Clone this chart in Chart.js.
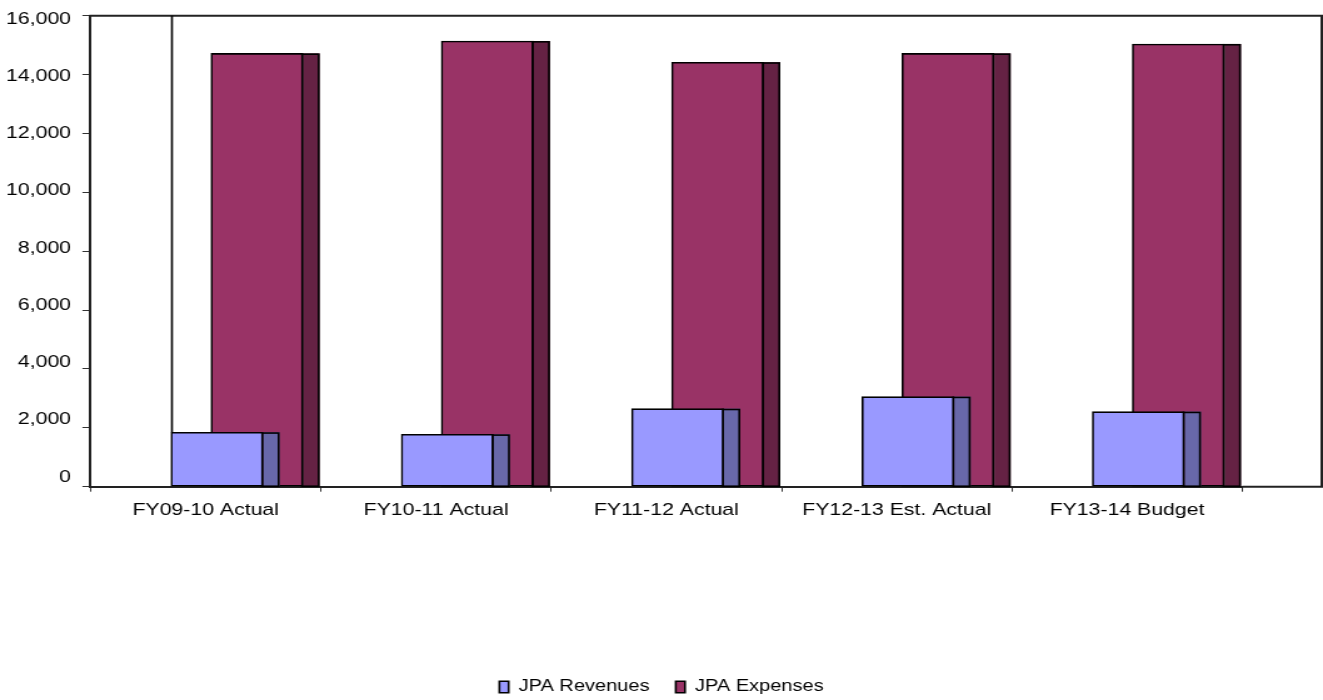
<!DOCTYPE html>
<html>
<head>
<meta charset="utf-8">
<title>JPA Revenues and Expenses</title>
<script src="https://cdn.jsdelivr.net/npm/chart.js@4"></script>
<style>
  html, body { margin: 0; padding: 0; background: #ffffff; }
  canvas { display: block; }
</style>
</head>
<body>
<!-- drawn at 1058px and shown 1323px wide: a horizontally stretched chart -->
<canvas id="chart" width="1058" height="700" style="width:1323px;height:700px"></canvas>
<script>
const categories = ['FY09-10 Actual', 'FY10-11 Actual', 'FY11-12 Actual', 'FY12-13 Est. Actual', 'FY13-14 Budget'];
const revenues = [1850, 1780, 2650, 3060, 2550];
const expenses = [14720, 15140, 14420, 14720, 15040];
const yTickValues = [0, 2000, 4000, 6000, 8000, 10000, 12000, 14000, 16000];
const seriesNames = ['JPA Revenues', 'JPA Expenses'];

const FONT = "'Liberation Sans', Arial, sans-serif";
const SIDE_W = 13.1;        // width of the shaded side face of each column
const EDGE = 1.6;           // outline width of the columns

// Pseudo 3-D columns: each dataset is shifted right by its depth offset and
// gets a darker side face next to every column.
const depthBars = {
  id: 'depthBars',
  beforeDatasetDraw(chart, args) {
    const ds = chart.data.datasets[args.index];
    chart.ctx.save();
    chart.ctx.translate(ds.depthShift || 0, 0);
  },
  afterDatasetDraw(chart, args) {
    const ctx = chart.ctx;
    const ds = chart.data.datasets[args.index];
    args.meta.data.forEach(el => {
      const p = el.getProps(['x', 'y', 'base', 'width'], true);
      const xr = p.x + p.width / 2;
      ctx.fillStyle = ds.sideColor;
      ctx.fillRect(xr, p.y, SIDE_W, p.base - p.y);
      ctx.lineWidth = EDGE;
      ctx.strokeStyle = '#000000';
      ctx.strokeRect(xr - EDGE / 2, p.y + EDGE / 2, SIDE_W, p.base - p.y - EDGE / 2);
    });
    ctx.restore();
  }
};

// Plot frame (top, right and the floor line running past the last category)
// plus the back-wall edge rising above the first revenue column.
const plotFrame = {
  id: 'plotFrame',
  afterDatasetsDraw(chart) {
    const ctx = chart.ctx;
    const a = chart.chartArea;
    const right = chart.width - 1;
    ctx.save();
    ctx.strokeStyle = '#222222';
    ctx.lineWidth = 2;
    ctx.beginPath();
    ctx.moveTo(a.left - 1, a.top);
    ctx.lineTo(right, a.top);
    ctx.lineTo(right, a.bottom);
    ctx.lineTo(a.right, a.bottom);
    ctx.stroke();

    const ds0 = chart.data.datasets[0];
    const first = chart.getDatasetMeta(0).data[0];
    if (first) {
      const p = first.getProps(['x', 'y', 'width'], true);
      const xl = p.x - p.width / 2 + (ds0.depthShift || 0) + EDGE / 2;
      ctx.strokeStyle = '#000000';
      ctx.lineWidth = EDGE;
      ctx.beginPath();
      ctx.moveTo(xl, a.top);
      ctx.lineTo(xl, p.y);
      ctx.stroke();
    }
    ctx.restore();
  }
};

// The legend is centred on the whole canvas, not only on the padded area.
const legendSpan = {
  id: 'legendSpan',
  afterLayout(chart) {
    const lg = chart.legend;
    if (lg) {
      lg.left = 0;
      lg.right = chart.width;
      lg.width = chart.width;
    }
  }
};

const setTicks = scale => { scale.ticks = yTickValues.map(v => ({ value: v })); };

new Chart(document.getElementById('chart'), {
  type: 'bar',
  data: {
    labels: categories,
    datasets: [
      {
        label: seriesNames[0],
        data: revenues,
        backgroundColor: '#9999FF',
        sideColor: '#6868AA',
        borderColor: '#000000',
        borderWidth: EDGE,
        borderSkipped: false,
        depthShift: 9.1,
        yAxisID: 'y',
        clip: false
      },
      {
        label: seriesNames[1],
        data: expenses,
        backgroundColor: '#993366',
        sideColor: '#652244',
        borderColor: '#000000',
        borderWidth: EDGE,
        borderSkipped: false,
        depthShift: 41.1,
        yAxisID: 'y',
        clip: false
      }
    ]
  },
  options: {
    responsive: false,
    devicePixelRatio: 1,
    animation: false,
    events: [],
    datasets: {
      bar: { grouped: false, barThickness: 73.8 }
    },
    layout: { padding: { top: 15.7, right: 64.6, left: 0, bottom: -5 } },
    scales: {
      x: {
        type: 'category',
        offset: true,
        grid: {
          offset: true,
          drawOnChartArea: false,
          drawTicks: true,
          tickLength: 5,
          color: '#333333',
          lineWidth: 1
        },
        border: { display: true, color: '#222222', width: 2 },
        ticks: {
          color: '#000000',
          font: { family: FONT, size: 17 },
          padding: 8,
          maxRotation: 0,
          autoSkip: false
        },
        afterFit(scale) { scale.height = 171.3; }
      },
      y: {
        type: 'linear',
        position: 'left',
        min: 0,
        max: 16000,
        afterBuildTicks: setTicks,
        grid: {
          drawOnChartArea: false,
          drawTicks: true,
          tickLength: 6.5,
          color: '#333333',
          lineWidth: 1
        },
        border: { display: true, color: '#222222', width: 2 },
        ticks: { display: false },
        afterFit(scale) { scale.width = 15.6; }
      },
      // tick label column, on a slightly tighter spacing than the tick marks
      yl: {
        type: 'linear',
        position: 'left',
        weight: 1,
        min: -339,
        max: 16115,
        afterBuildTicks: setTicks,
        grid: { display: false, drawTicks: false },
        border: { display: false },
        ticks: {
          color: '#000000',
          font: { family: FONT, size: 17 },
          padding: 0,
          autoSkip: false
        },
        afterFit(scale) { scale.width = 56.8; }
      }
    },
    plugins: {
      legend: {
        position: 'bottom',
        labels: {
          color: '#000000',
          font: { family: FONT, size: 16 },
          boxWidth: 7.4,
          boxHeight: 11.6,
          padding: 21
        }
      },
      tooltip: { enabled: false },
      title: { display: false }
    }
  },
  plugins: [depthBars, plotFrame, legendSpan]
});
</script>
</body>
</html>
